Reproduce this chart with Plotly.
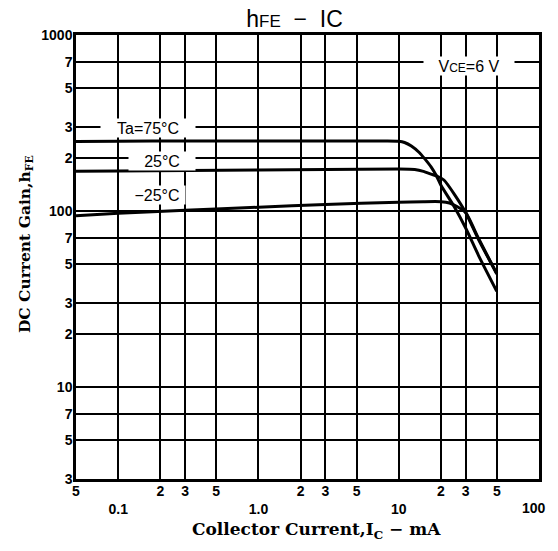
import plotly.graph_objects as go

# ---- data ----
ic_75 = [0.05, 0.1, 0.3, 1, 3, 8, 10, 11, 12.3, 14, 15.4, 17, 18.6, 20, 25, 30, 37, 50]
hfe_75 = [248, 249, 250, 250, 250, 250, 249, 245, 234, 215, 197, 178, 158, 140, 105, 80, 56, 35]

ic_25 = [0.05, 0.1, 1, 3, 10, 13, 15, 17, 19, 21, 25, 30, 37, 50]
hfe_25 = [168, 169, 171, 172, 173, 172, 168, 162, 157, 150, 124, 98, 69, 44]

ic_m25 = [0.05, 0.1, 0.3, 1, 3, 10, 15, 20, 23, 26, 30, 37, 50]
hfe_m25 = [94, 97, 101, 105, 109, 112, 113, 113, 111, 106, 98, 70, 44]

x_tickvals = [0.05, 0.1, 0.2, 0.3, 0.5, 1, 2, 3, 5, 10, 20, 30, 50, 100]
x_ticktext = ["5", "<br>0.1", "2", "3", "5", "<br>1.0", "2", "3", "5", "<br>10", "2", "3", "5", ""]
x_last_label = "100"

y_tickvals = [3, 5, 7, 10, 20, 30, 50, 70, 100, 200, 300, 500, 700, 1000]
y_ticktext = ["3", "5", "7", "10", "2", "3", "5", "7", "100", "2", "3", "5", "7", "1000"]

fig = go.Figure()
for xs, ys in [(ic_75, hfe_75), (ic_25, hfe_25), (ic_m25, hfe_m25)]:
    fig.add_trace(go.Scatter(x=xs, y=ys, mode="lines",
                             line=dict(color="black", width=3, shape="spline", smoothing=0.6),
                             showlegend=False, hoverinfo="skip"))

tick_font = dict(family="Liberation Sans", size=14, color="black", weight="bold")

fig.update_xaxes(type="log", range=[-1.30103, 2], tickvals=x_tickvals, ticktext=x_ticktext,
                 showgrid=True, gridcolor="black", gridwidth=2,
                 showline=True, linecolor="black", linewidth=2.5, mirror=True,
                 ticks="", tickfont=tick_font, zeroline=False, ticklabelstandoff=-3)
fig.update_yaxes(type="log", range=[0.4771, 3], tickvals=y_tickvals, ticktext=y_ticktext,
                 showgrid=True, gridcolor="black", gridwidth=2,
                 showline=True, linecolor="black", linewidth=2.5, mirror=True,
                 ticks="", tickfont=tick_font, zeroline=False, ticklabelstandoff=-2)

label_font = dict(family="Liberation Sans", size=16, color="black")
annotations = [
    dict(x=-0.79, y=2.47, xref="x", yref="y", text="Ta=75°C", showarrow=False,
         font=label_font, bgcolor="white", width=92, height=16),
    dict(x=-0.691, y=2.282, xref="x", yref="y", text="25°C", showarrow=False,
         font=label_font, bgcolor="white", width=64, height=16),
    dict(x=-0.723, y=2.09, xref="x", yref="y", text="−25°C", showarrow=False,
         font=label_font, bgcolor="white", width=54, height=16),
    dict(x=1.50, y=2.825, xref="x", yref="y",
         text="V<span style='font-size:12px'>CE</span>=6 V", showarrow=False,
         font=label_font, bgcolor="white", width=88, height=16),
    # last x decade label (kept inside the page)
    dict(x=2, y=0, xref="x", yref="paper", yanchor="middle", yshift=-29, xshift=-5,
         text=x_last_label, showarrow=False, font=tick_font),
    # axis titles
    dict(x=0.519, y=0, xref="paper", yref="paper", yanchor="middle", yshift=-51,
         text="Collector Current,I<sub>C</sub> − mA", showarrow=False,
         font=dict(family="DejaVu Serif", size=17, color="black", weight="bold")),
    dict(x=0, y=0.529, xref="paper", yref="paper", xanchor="center", xshift=-51,
         text="DC Current Gain,h<sub>FE</sub>", showarrow=False, textangle=-90,
         font=dict(family="DejaVu Serif", size=15.5, color="black", weight="bold")),
]
fig.update_layout(
    title=dict(text="h<span style='font-size:17px'>FE</span>  −  IC",
               x=0.472, xref="paper", xanchor="center",
               y=0.979, yref="container", yanchor="middle",
               font=dict(family="Liberation Sans", size=23, color="black")),
    annotations=annotations,
    width=542, height=535,
    margin=dict(l=68, r=8, t=27, b=64),
    plot_bgcolor="white", paper_bgcolor="white")

fig.write_html("out.html")
